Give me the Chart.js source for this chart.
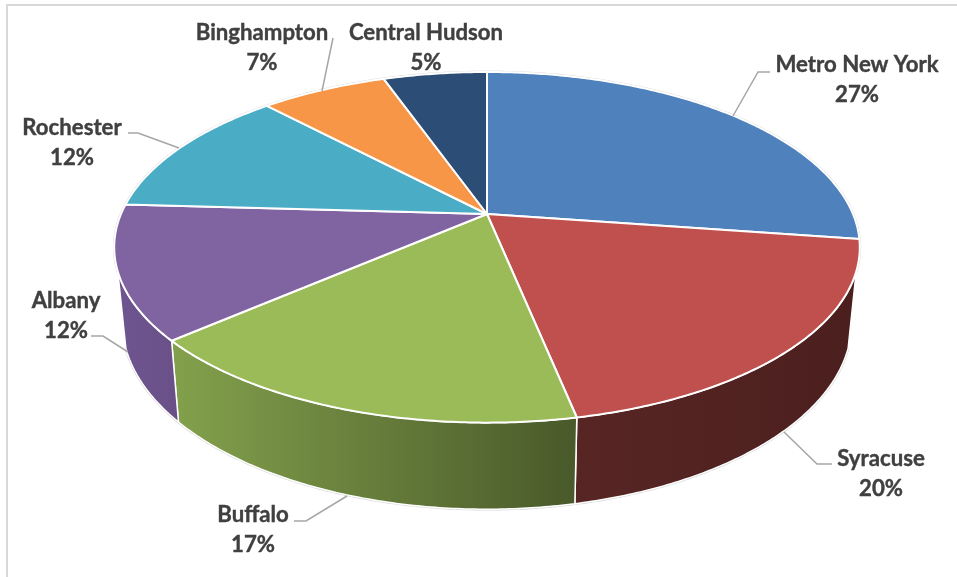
<!DOCTYPE html>
<html>
<head>
<meta charset="utf-8">
<script src="https://cdn.jsdelivr.net/npm/chart.js@4/dist/chart.umd.min.js"></script>
<style>html,body{margin:0;padding:0;background:#fff}canvas{display:block}</style>
</head>
<body>
<canvas id="c" width="957" height="577"></canvas>
<script>
const categories = ["Metro New York","Syracuse","Buffalo","Albany","Rochester","Binghampton","Central Hudson"];
const shares = [27.3,19.5,16.8,12.3,12.1,6.6,5.4];
const topColors = ["#4f81bd","#c0504d","#9bbb59","#8064a2","#4bacc6","#f79646","#2c4d75"];
const wallLeft  = ["#4f81bd","#572624","#83a14c","#6f5590","#4bacc6","#f79646","#2c4d75"];
const wallRight = ["#4f81bd","#4b1f1e","#49592a","#6a5087","#4bacc6","#f79646","#2c4d75"];

const topRim = {cx:487, cy:214, a:366, b:169, k:0.19};
const lowRim = {cx:487, cy:287, a:358, b:180, k:0.19};
const wallSpan = 1.245;
const labelLayout = [
  {x:857,y:65,leader:[[733,116],[758,72],[770,72]]},
  {x:881,y:459,leader:[[784,432],[817,464],[832,464]]},
  {x:253,y:515,leader:[[347,496],[306,521],[294,521]]},
  {x:66,y:301,leader:[[128,352],[103,336],[91,336]]},
  {x:72,y:128,leader:[[179,148],[138,133],[128,133]]},
  {x:262,y:33,leader:[[322,91],[333,38]]},
  {x:426,y:33,leader:null}
];

function project(rim, theta){
  const u = Math.sin(theta), v = -Math.cos(theta), d = 1 - rim.k*v;
  return [rim.cx + rim.a*u/d, rim.cy + rim.b*v/d];
}
function arcPoints(rim, s, e){
  const n = Math.max(2, Math.ceil(Math.abs(e-s)/0.01)), pts = [];
  for(let i=0;i<=n;i++) pts.push(project(rim, s+(e-s)*i/n));
  return pts;
}
function trace(ctx, pts){
  pts.forEach((p,i)=> i? ctx.lineTo(p[0],p[1]) : ctx.moveTo(p[0],p[1]));
}

const pie3d = {
  id:"pie3d",
  beforeDatasetDraw(chart, args){
    const ctx = chart.ctx, arcs = chart.getDatasetMeta(args.index).data;
    const angles = arcs.map(a=>[a.startAngle+Math.PI/2, a.endAngle+Math.PI/2]);
    const wallStart = Math.PI-wallSpan, wallEnd = Math.PI+wallSpan;
    ctx.save();
    ctx.fillStyle = "#fff"; ctx.fillRect(0,0,chart.width,chart.height);
    ctx.fillStyle = "#d9d9d9";
    ctx.fillRect(6,4,chart.width-6,2);
    ctx.fillRect(6,4,2,chart.height-4);
    ctx.lineJoin = "round";

    // faint halo round the outline
    ctx.strokeStyle = "#d4d4d4"; ctx.lineWidth = 2.6;
    ctx.beginPath(); trace(ctx, arcPoints(topRim,0,2*Math.PI)); ctx.closePath(); ctx.stroke();
    ctx.beginPath(); trace(ctx, arcPoints(lowRim,wallStart,wallEnd)); ctx.stroke();

    // walls, limited to the visible stretch of the rim
    angles.forEach(([s,e],i)=>{
      const a = Math.max(s,wallStart), b = Math.min(e,wallEnd);
      if(b<=a) return;
      const up = arcPoints(topRim,a,b), lo = arcPoints(lowRim,a,b);
      const xs = up.concat(lo).map(p=>p[0]);
      const g = ctx.createLinearGradient(Math.min(...xs),0,Math.max(...xs),0);
      g.addColorStop(0,wallLeft[i]); g.addColorStop(1,wallRight[i]);
      ctx.beginPath(); trace(ctx,up.concat(lo.reverse())); ctx.closePath();
      ctx.fillStyle = g; ctx.fill();
      ctx.strokeStyle = "#fff"; ctx.lineWidth = 1.5; ctx.stroke();
    });

    // top faces
    angles.forEach(([s,e],i)=>{
      ctx.beginPath(); ctx.moveTo(topRim.cx,topRim.cy);
      arcPoints(topRim,s,e).forEach(p=>ctx.lineTo(p[0],p[1]));
      ctx.closePath();
      ctx.fillStyle = topColors[i]; ctx.fill();
      ctx.strokeStyle = "#fff"; ctx.lineWidth = 2; ctx.stroke();
    });

    // labels
    ctx.strokeStyle = "#a6a6a6"; ctx.lineWidth = 1.5; ctx.lineJoin = "miter";
    labelLayout.forEach(l=>{
      if(!l.leader) return;
      ctx.beginPath(); trace(ctx,l.leader); ctx.stroke();
    });
    ctx.fillStyle = "#404040"; ctx.strokeStyle = "#404040"; ctx.lineWidth = 0.4;
    ctx.textAlign = "center"; ctx.textBaseline = "middle";
    ctx.font = "bold 22.2px Lato, Carlito, sans-serif";
    labelLayout.forEach((l,i)=>{
      const pct = Math.round(shares[i])+"%";
      ctx.fillText(categories[i], l.x, l.y); ctx.strokeText(categories[i], l.x, l.y);
      ctx.fillText(pct, l.x, l.y+30); ctx.strokeText(pct, l.x, l.y+30);
    });
    ctx.restore();
    return false;
  }
};

new Chart(document.getElementById("c"),{
  type:"pie",
  data:{labels:categories,datasets:[{data:shares,backgroundColor:topColors,borderColor:"#fff",borderWidth:2}]},
  options:{responsive:false,animation:false,events:[],
    plugins:{legend:{display:false},tooltip:{enabled:false}}},
  plugins:[pie3d]
});
</script>
</body>
</html>
